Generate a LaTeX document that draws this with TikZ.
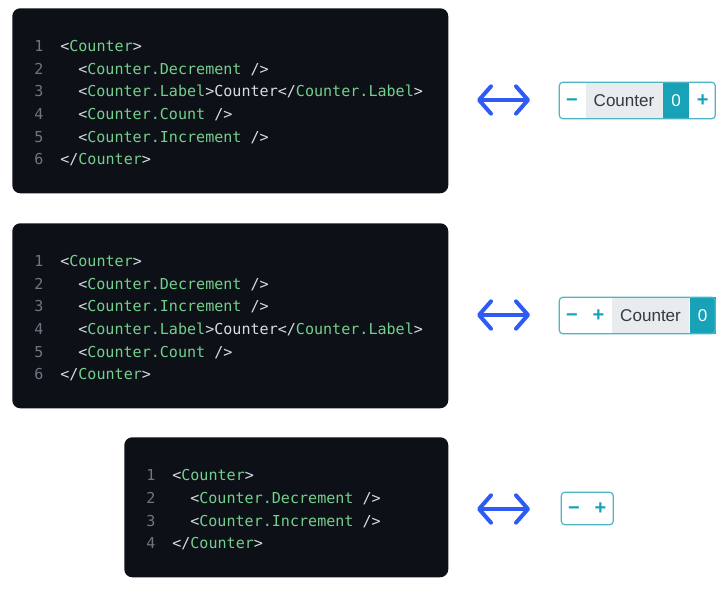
\documentclass[tikz,border=0pt]{standalone}
\usepackage{fontspec}
\setmainfont{Liberation Sans}
\newfontfamily\codefont{DejaVu Sans Mono}
\usetikzlibrary{arrows.meta, positioning, fit}
\definecolor{codebg}{HTML}{0D1117}
\definecolor{codegreen}{HTML}{74CF8C}
\definecolor{codelight}{HTML}{D5DCE3}
\definecolor{lnumgray}{HTML}{6E7681}
\definecolor{arrowblue}{HTML}{2D5BF4}
\definecolor{ctteal}{HTML}{17A2B8}
\definecolor{ctborder}{HTML}{4DB5C4}
\definecolor{lblgray}{HTML}{E9ECEF}
\definecolor{lbltext}{HTML}{343A40}
\newcommand{\cmp}[1]{\textcolor{codegreen}{#1}}

\begin{document}
\begin{tikzpicture}[
  x=0.75pt, y=-0.75pt,
  codeblock/.style={
    rectangle, rounded corners=6pt, fill=codebg, inner sep=0pt, anchor=north west,
  },
  lnum/.style={
    font=\codefont\fontsize{11.3}{13}\selectfont, text=lnumgray,
    text height=8.2pt, text depth=0pt, inner sep=0pt,
  },
  codeline/.style={
    font=\codefont\fontsize{11.3}{13}\selectfont, text=codelight,
    text height=8.2pt, text depth=0pt, inner sep=0pt, anchor=west,
  },
  seg/.style={
    rectangle, inner sep=0pt, minimum height=#1, text height=9pt, text depth=0pt,
  },
  btn/.style={
    seg=#1, fill=white, text=ctteal, font=\bfseries\fontsize{15}{16}\selectfont,
    minimum width=19.5pt,
  },
  lbl/.style={
    seg=#1, fill=lblgray, text=lbltext, font=\fontsize{12.8}{14}\selectfont,
    minimum width=57.75pt,
  },
  cnt/.style={
    seg=#1, fill=ctteal, text=white, font=\fontsize{12.8}{14}\selectfont,
    minimum width=19.5pt,
  },
  frame/.style={
    draw=ctborder, line width=0.9pt, rounded corners=2.5pt, inner sep=-0.45pt,
  },
  biarrow/.style={
    draw=arrowblue, line width=3pt,
    {Straight Barb[length=9pt, width=20.5pt, round]}-{Straight Barb[length=9pt, width=20.5pt, round]},
  },
]
  \useasboundingbox (0,0) rectangle (728,592);

  % Block 1: label before count
  \node[codeblock, minimum width=327pt, minimum height=138.75pt] (b1) at (12,8) {};
  \node[lnum] (n11) at (39,46) {1};
  \node[lnum] (n12) at (39,69) {2};
  \node[lnum] (n13) at (39,91) {3};
  \node[lnum] (n14) at (39,114) {4};
  \node[lnum] (n15) at (39,137) {5};
  \node[lnum] (n16) at (39,159) {6};
  \node[codeline] (c11) at (60,46) {<\cmp{Counter}>};
  \node[codeline] (c12) at (78,69) {<\cmp{Counter.Decrement} />};
  \node[codeline] (c13) at (78,91) {<\cmp{Counter.Label}>Counter</\cmp{Counter.Label}>};
  \node[codeline] (c14) at (78,114) {<\cmp{Counter.Count} />};
  \node[codeline] (c15) at (78,137) {<\cmp{Counter.Increment} />};
  \node[codeline] (c16) at (60,159) {</\cmp{Counter}>};

  % Block 2: buttons first
  \node[codeblock, minimum width=327pt, minimum height=138.75pt] (b2) at (12,223) {};
  \node[lnum] (n21) at (39,261) {1};
  \node[lnum] (n22) at (39,284) {2};
  \node[lnum] (n23) at (39,306) {3};
  \node[lnum] (n24) at (39,329) {4};
  \node[lnum] (n25) at (39,352) {5};
  \node[lnum] (n26) at (39,374) {6};
  \node[codeline] (c21) at (60,261) {<\cmp{Counter}>};
  \node[codeline] (c22) at (78,284) {<\cmp{Counter.Decrement} />};
  \node[codeline] (c23) at (78,306) {<\cmp{Counter.Increment} />};
  \node[codeline] (c24) at (78,329) {<\cmp{Counter.Label}>Counter</\cmp{Counter.Label}>};
  \node[codeline] (c25) at (78,352) {<\cmp{Counter.Count} />};
  \node[codeline] (c26) at (60,374) {</\cmp{Counter}>};

  % Block 3: buttons only
  \node[codeblock, minimum width=243pt, minimum height=105pt] (b3) at (124,437) {};
  \node[lnum] (n31) at (151,475) {1};
  \node[lnum] (n32) at (151,498) {2};
  \node[lnum] (n33) at (151,521) {3};
  \node[lnum] (n34) at (151,543) {4};
  \node[codeline] (c31) at (172,475) {<\cmp{Counter}>};
  \node[codeline] (c32) at (190,498) {<\cmp{Counter.Decrement} />};
  \node[codeline] (c33) at (190,521) {<\cmp{Counter.Increment} />};
  \node[codeline] (c34) at (172,543) {</\cmp{Counter}>};

  % Arrows
  \coordinate (a1l) at (477,100);
  \coordinate (a1r) at (530,100);
  \coordinate (a2l) at (477,315);
  \coordinate (a2r) at (530,315);
  \coordinate (a3l) at (477,509);
  \coordinate (a3r) at (530,509);
  \draw[biarrow] (a1l) -- (a1r);
  \draw[biarrow] (a2l) -- (a2r);
  \draw[biarrow] (a3l) -- (a3r);

  % Widget 1
  \node[btn=27.75pt] (w1dec) at (572,100.5) {−};
  \node[lbl=27.75pt, right=0pt of w1dec] (w1lbl) {Counter};
  \node[cnt=27.75pt, right=0pt of w1lbl] (w1cnt) {0};
  \node[btn=27.75pt, right=0pt of w1cnt] (w1inc) {+};
  \node[frame, fit=(w1dec)(w1inc)] (w1) {};

  % Widget 2
  \node[btn=27.75pt] (w2dec) at (572,315.5) {−};
  \node[btn=27.75pt, right=0pt of w2dec] (w2inc) {+};
  \node[lbl=27.75pt, right=0pt of w2inc] (w2lbl) {Counter};
  \node[cnt=27.75pt, right=0pt of w2lbl] (w2cnt) {0};
  \node[frame, fit=(w2dec)(w2cnt)] (w2) {};

  % Widget 3
  \node[btn=24.75pt] (w3dec) at (574,508.5) {−};
  \node[btn=24.75pt, right=0pt of w3dec] (w3inc) {+};
  \node[frame, fit=(w3dec)(w3inc)] (w3) {};

\end{tikzpicture}
\end{document}
